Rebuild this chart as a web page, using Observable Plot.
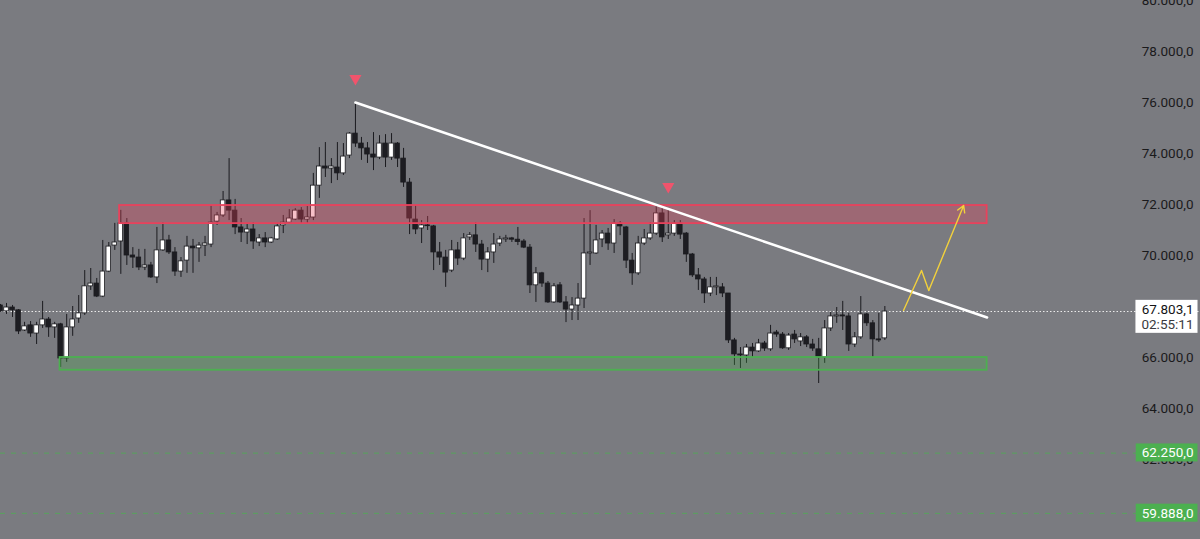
<!DOCTYPE html>
<html><head><meta charset="utf-8">
<script src="https://cdn.jsdelivr.net/npm/d3@7"></script>
<script src="https://cdn.jsdelivr.net/npm/@observablehq/plot@0.6"></script>
<style>html,body{margin:0;padding:0;background:#7a7b80;overflow:hidden}#chart svg{display:block}</style>
</head><body><div id="chart"></div>
<script>
// ---------- data ----------
const opens = [68040,67810,67960,67850,67060,67260,66940,67260,67490,67180,67300,65960,67180,67530,67730,68790,68900,68390,69370,70390,
70550,71260,70000,69920,69530,69610,69140,70200,70590,70120,69370,69800,70350,70280,70390,70430,71330,71570,72160,71760,
71100,70900,71020,70510,70670,70510,70630,71180,71290,71410,71760,71410,71490,72740,73490,73410,73450,73220,73920,74780,
74390,74200,73960,73840,74390,73840,74390,73800,72860,71410,71060,71180,71140,70120,69920,69410,70200,69880,70710,70790,
70430,69840,70120,70470,70630,70670,70620,70550,70310,68830,69300,68900,68160,68830,68160,67880,68040,68310,70080,70080,
70630,70860,70470,71250,71100,69800,69300,70470,70670,70860,71650,70790,70860,71250,70860,70040,69220,69060,68510,68750,
68750,68510,66670,66120,66080,66390,66240,66550,66320,66980,66900,66360,66900,66630,66790,66510,66320,66000,67140,67610,
67650,67610,66510,66790,67690,67340,66710,66750];
const highs = [68080,68120,68040,67880,67380,67410,67380,68200,67570,67380,67340,67690,68000,68430,69410,69490,69100,70590,70510,71260,
71770,71450,70310,70240,70240,69730,71100,71290,70790,70310,69920,70750,70630,70510,70750,71960,71690,72510,73800,72200,
71450,71260,71290,70820,70900,70710,71260,71570,71800,71840,71880,71920,73220,74230,74430,73800,74430,74390,74820,76000,
74630,74430,74820,74700,74740,74780,74430,74200,73020,71960,71370,71530,71180,70510,70200,70590,70510,70860,70900,71290,
70590,70310,70860,70750,70790,70710,71100,70630,70430,69530,69340,68980,68900,68940,68390,68350,68900,71450,71760,71180,
70980,71060,71410,71330,71140,70080,70750,71020,71290,71920,71960,71770,71370,71370,70900,70080,69490,69140,69140,69140,
68900,68510,66750,66390,66510,66550,66710,66630,67260,67060,66980,66940,67060,66940,66860,66710,66750,67450,67770,67960,
68200,67730,66980,68390,67730,67450,67730,68000];
const lows = [67770,67690,67570,66900,67020,66790,66510,67140,66790,66750,65610,65810,66830,67340,67650,68630,68350,68350,69330,70200,
69260,69610,69490,69410,69410,69100,68900,70160,70040,69180,69140,69300,69300,69730,69960,70310,71180,71490,71370,70820,
70510,70430,70240,70350,70310,70470,70590,70860,71250,71370,71250,71250,71370,72240,73060,72820,72940,73140,73800,74240,
73730,73610,73330,73760,73450,73730,73450,72670,70820,70820,70470,70980,69410,69610,68750,69330,69610,69800,70590,70120,
69410,69330,69690,70350,70510,70510,70390,70270,68510,68160,68750,68120,68120,68120,67370,67450,67450,67920,69610,70040,
70310,70200,70080,70780,69490,68830,69220,70390,70590,70790,70510,70630,70750,70630,69730,69140,68630,68120,68390,68430,
68350,66550,65690,65570,65770,66000,66200,66240,66240,66790,66320,66280,66550,66430,66390,66240,64980,65770,67020,67340,
67060,66240,66390,66710,67220,66000,66590,66670];
const closes = [67810,67960,67850,67020,67220,66940,67260,67490,67180,67300,65960,67180,67490,67730,68790,68900,68390,69370,70350,70510,
71260,70000,69920,69530,69610,69140,70200,70590,70120,69370,69770,70350,70280,70390,70470,71290,71570,72160,71760,71100,
70900,71020,70550,70670,70510,70670,71140,71290,71450,71760,71410,71490,72740,73490,73410,73490,73220,73880,74780,74390,
74200,73960,73840,74390,73840,74390,73800,72860,71450,71020,71180,71150,70120,69920,69330,70200,69880,70670,70790,70430,
69840,70120,70430,70630,70670,70620,70530,70310,68830,69300,68900,68160,68790,68160,67880,68040,68310,70080,70120,70590,
70860,70470,71250,71140,69800,69300,70470,70670,70860,71650,70710,70860,71250,70820,70040,69220,69060,68510,68750,68790,
68510,66670,66120,66080,66390,66240,66550,66350,66940,66900,66360,66860,66710,66790,66510,66350,66000,67140,67610,67650,
67610,66510,66790,67690,67340,66710,66670,67803.1];

// right-hand price scale tick labels
const tickValues = [60000,62000,64000,66000,68000,70000,72000,74000,76000,78000,80000];
// zones: resistance (red) and support (green)
const zoneStartBar = [19.8, 9.9];
const zoneEndBar   = [164, 164];
const zoneTop      = [71960, 66000];
const zoneBottom   = [71250, 65500];
// descending trendline
const trendBar   = [59, 164];
const trendPrice = [76000, 67570];
// pivot markers
const markerBar   = [59, 111];
const markerPrice = [76940, 72706];
// projected path (yellow)
const pathBar   = [150.1, 153.1, 154.3, 160.1];
const pathPrice = [67845, 69413, 68629, 71961];
// horizontal levels
const levelPrices = [62250, 59888];
const currentPrice = 67803.1;
const countdown = "02:55:11";

// ---------- build ----------
const W = 1200, H = 539, barPx = 6.016;
const fmt = d3.formatLocale({decimal: ",", thousands: ".", grouping: [3], currency: ["", ""]}).format(",.1f");
const candles = opens.map((o, i) => ({i, o, h: highs[i], l: lows[i], c: closes[i], up: closes[i] >= o}));
const zones = zoneTop.map((t, k) => ({x1: zoneStartBar[k], x2: zoneEndBar[k], top: t, bottom: zoneBottom[k]}));
const trend = trendBar.map((b, k) => ({x: b, y: trendPrice[k]}));
const markers = markerBar.map((b, k) => ({x: b, y: markerPrice[k]}));
const path = pathBar.map((b, k) => ({x: b, y: pathPrice[k]}));
const n = path.length;
const arrowSeg = [{x1: path[n-2].x, y1: path[n-2].y, x2: path[n-1].x, y2: path[n-1].y}];

const red = "#e8425c", green = "#4cb050";
const font = "Roboto, 'Liberation Sans', sans-serif";
const chart = Plot.plot({
  width: W, height: H, margin: 0,
  style: {background: "#7a7b80", fontFamily: font},
  x: {domain: [0, W / barPx], axis: null},
  y: {domain: [58863, 80000], axis: null},
  marks: [
    Plot.ruleY(levelPrices, {stroke: green, strokeOpacity: 0.75, strokeDasharray: "5,6", strokeWidth: 1}),
    Plot.ruleY([currentPrice], {stroke: "#ececec", strokeDasharray: "1.5,2", strokeWidth: 1}),
    Plot.ruleX(candles, {x: "i", y1: "l", y2: "h", stroke: "#1b1b1f", strokeWidth: 1}),
    Plot.rect(candles.filter(d => d.up), {x1: d => d.i - 0.38, x2: d => d.i + 0.38, y1: "o", y2: "c", fill: "#ffffff", stroke: "#1b1b1f", strokeWidth: 0.8}),
    Plot.rect(candles.filter(d => !d.up), {x1: d => d.i - 0.38, x2: d => d.i + 0.38, y1: "o", y2: "c", fill: "#1d1d22", stroke: "#1b1b1f", strokeWidth: 0.8}),
    Plot.rect(zones.slice(0, 1), {x1: "x1", x2: "x2", y1: "bottom", y2: "top", fill: red, fillOpacity: 0.33, stroke: red, strokeWidth: 1.8}),
    Plot.rect(zones.slice(1, 2), {x1: "x1", x2: "x2", y1: "bottom", y2: "top", fill: green, fillOpacity: 0.28, stroke: green, strokeWidth: 1.8}),
    Plot.line(trend, {x: "x", y: "y", stroke: "#ffffff", strokeWidth: 2.5}),
    Plot.dot(markers, {x: "x", y: "y", symbol: "triangle", r: 4.5, fill: "#f0546c", rotate: 180}),
    Plot.line(path.slice(0, n - 1), {x: "x", y: "y", stroke: "#f2d13c", strokeWidth: 1.4}),
    Plot.arrow(arrowSeg, {x1: "x1", y1: "y1", x2: "x2", y2: "y2", stroke: "#f2d13c", strokeWidth: 1.4, headLength: 8, bend: 0}),
    Plot.text(tickValues, {y: d => d, text: d => fmt(d), frameAnchor: "right", textAnchor: "end", dx: -7, fill: "#1a1a1c", fontSize: 13.5}),
    Plot.text([currentPrice], {y: d => d, text: d => fmt(d), frameAnchor: "right", textAnchor: "end", dx: -7, dy: -2, fill: "#141416", fontSize: 13.5, ariaDescription: "tag-current"}),
    Plot.text([currentPrice], {y: d => d, text: [countdown], frameAnchor: "right", textAnchor: "end", dx: -7, dy: 13, fill: "#3a3a3e", fontSize: 13.5, ariaDescription: "tag-current"}),
    Plot.text(levelPrices, {y: d => d, text: d => fmt(d), frameAnchor: "right", textAnchor: "end", dx: -7, fill: "#ffffff", fontSize: 13.5, ariaDescription: "tag-level"})
  ]
});
document.getElementById("chart").append(chart);

// boxes behind price tags (drawn just under the tag texts)
const svgRect = chart.getBoundingClientRect();
function boxFor(texts, fill, beforeNode) {
  if (!texts.length || !beforeNode) return;
  let x0 = Infinity, y0 = Infinity, x1 = -Infinity, y1 = -Infinity;
  texts.forEach(t => {
    const r = t.getBoundingClientRect();
    x0 = Math.min(x0, r.left); y0 = Math.min(y0, r.top);
    x1 = Math.max(x1, r.right); y1 = Math.max(y1, r.bottom);
  });
  const rect = document.createElementNS("http://www.w3.org/2000/svg", "rect");
  rect.setAttribute("x", x0 - svgRect.left - 6);
  rect.setAttribute("y", y0 - svgRect.top - 1);
  rect.setAttribute("width", x1 - x0 + 10);
  rect.setAttribute("height", y1 - y0 + 2);
  rect.setAttribute("fill", fill);
  beforeNode.parentNode.insertBefore(rect, beforeNode);
}
const curGroups = Array.from(chart.querySelectorAll('g[aria-description="tag-current"]'));
boxFor(curGroups.flatMap(g => Array.from(g.querySelectorAll("text"))), "#ffffff", curGroups[0]);
const lvlGroup = chart.querySelector('g[aria-description="tag-level"]');
if (lvlGroup) lvlGroup.querySelectorAll("text").forEach(t => boxFor([t], green, lvlGroup));
</script>
</body></html>
